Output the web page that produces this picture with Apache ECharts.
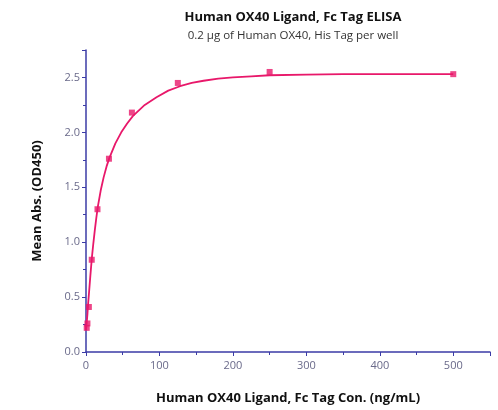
<!DOCTYPE html>
<html>
<head>
<meta charset="utf-8">
<script src="https://cdn.jsdelivr.net/npm/echarts@6/dist/echarts.min.js"></script>
<style>
  html, body { margin: 0; padding: 0; background: #fff; }
  #chart { width: 498px; height: 410px; }
</style>
</head>
<body>
<div id="chart"></div>
<script>
// measured points (ng/mL, OD450)
var conc = [500, 250, 125, 62.5, 31.25, 15.63, 7.81, 3.91, 1.95, 0.98];
var absorb = [2.53, 2.55, 2.45, 2.18, 1.76, 1.30, 0.84, 0.41, 0.26, 0.22];
// fitted curve
var fitX = [0, 1, 2, 3, 4, 6, 8, 10, 12, 14, 16, 20, 24, 28, 32, 40, 48, 56, 64, 80, 96, 112, 128, 144, 160, 180, 200, 225, 250, 300, 350, 400, 500];
var fitY = [0.20, 0.27, 0.35, 0.45, 0.53, 0.70, 0.86, 0.99, 1.11, 1.22, 1.32, 1.47, 1.59, 1.69, 1.77, 1.90, 2.00, 2.08, 2.15, 2.25, 2.32, 2.38, 2.42, 2.45, 2.47, 2.49, 2.50, 2.51, 2.52, 2.525, 2.53, 2.53, 2.53];

var axisColor = '#3b3ba6';
var lineColor = '#e8186a';
var font = '"Open Sans", "Liberation Sans", sans-serif';

var chart = echarts.init(document.getElementById('chart'));
chart.setOption({
  animation: false,
  title: [{
    text: 'Human OX40 Ligand, Fc Tag ELISA',
    left: 288, top: 6, textAlign: 'center',
    textStyle: { fontFamily: font, fontSize: 13, fontWeight: 'bold', color: '#111' }
  }, {
    text: '0.2 µg of Human OX40, His Tag per well',
    left: 288, top: 25, textAlign: 'center',
    textStyle: { fontFamily: font, fontSize: 11.5, fontWeight: 'normal', color: '#333' }
  }],
  grid: { left: 86, right: 8, top: 50, bottom: 58 },
  xAxis: {
    type: 'value', min: 0, max: 550, interval: 100,
    name: 'Human OX40 Ligand, Fc Tag Con. (ng/mL)',
    nameLocation: 'middle', nameGap: 40,
    nameTextStyle: { fontFamily: font, fontSize: 13, fontWeight: 'bold', color: '#111' },
    axisLine: { lineStyle: { color: axisColor, width: 1.5 } },
    axisTick: { length: 4, lineStyle: { color: axisColor } },
    minorTick: { show: true, splitNumber: 2, length: 3, lineStyle: { color: axisColor } },
    axisLabel: {
      fontFamily: font, fontSize: 11, color: '#6a6a8a', margin: 8,
      formatter: function (v) { return v > 500 ? '' : v; }
    },
    splitLine: { show: false }
  },
  yAxis: {
    type: 'value', min: 0, max: 2.75, interval: 0.5,
    name: 'Mean Abs. (OD450)',
    nameLocation: 'middle', nameGap: 42,
    nameTextStyle: { fontFamily: font, fontSize: 13, fontWeight: 'bold', color: '#111' },
    axisLine: { show: true, lineStyle: { color: axisColor, width: 1.5 } },
    axisTick: { show: true, length: 4, lineStyle: { color: axisColor } },
    minorTick: { show: true, splitNumber: 2, length: 3, lineStyle: { color: axisColor } },
    axisLabel: {
      fontFamily: font, fontSize: 11, color: '#6a6a8a', margin: 6,
      formatter: function (v) { return v > 2.5 ? '' : v.toFixed(1); }
    },
    splitLine: { show: false }
  },
  series: [{
    type: 'line',
    data: fitX.map(function (x, i) { return [x, fitY[i]]; }),
    smooth: false,
    showSymbol: false,
    lineStyle: { color: lineColor, width: 1.8 },
    z: 2
  }, {
    type: 'scatter',
    data: conc.map(function (x, i) { return [x, absorb[i]]; }),
    symbol: 'rect',
    symbolSize: 6,
    itemStyle: { color: lineColor },
    z: 3
  }]
});
</script>
</body>
</html>
